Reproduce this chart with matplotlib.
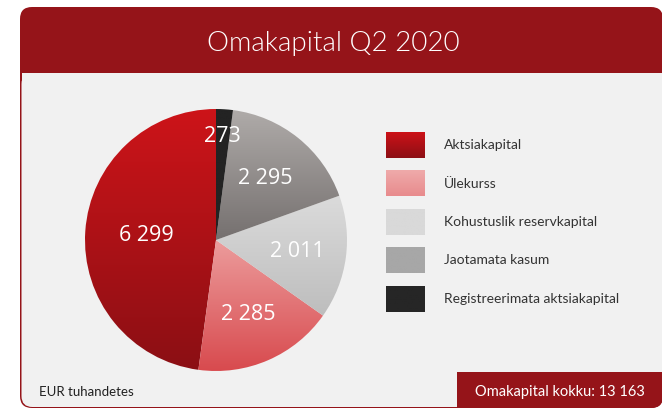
import numpy as np
import matplotlib
matplotlib.use("Agg")
import matplotlib.pyplot as plt
from matplotlib.colors import LinearSegmentedColormap
from matplotlib.patches import FancyBboxPatch, Rectangle

# Andmed (EUR tuhandetes)
kategooriad = ["Aktsiakapital", "Ülekurss", "Kohustuslik reservkapital",
               "Jaotamata kasum", "Registreerimata aktsiakapital"]
vaartused = [6299, 2285, 2011, 2295, 273]
pealkiri = "Omakapital Q2 2020"
uhik = "EUR tuhandetes"
kokku = sum(vaartused)

# värvid: ülemine ja alumine gradiendi toon
pie_varvid = [("#cd1419", "#8b0f14"), ("#ec9c9c", "#d84a4e"), ("#dbdbdb", "#bdbdbd"),
              ("#afaba9", "#75706f"), ("#232323", "#232323")]
leg_varvid = [("#cc1218", "#8d0f15"), ("#efaaaa", "#e88b8d"), ("#d9d9d9", "#d9d9d9"),
              ("#a7a7a7", "#a7a7a7"), ("#262626", "#262626")]
label_kaugus = [0.53, 0.62, 0.63, 0.60, 0.79]
punane = "#951419"

W, H = 662, 409
fig = plt.figure(figsize=(W / 100, H / 100), dpi=100)
fig.patch.set_facecolor("white")

ax = fig.add_axes([0, 0, 1, 1])
ax.axis("off")

# kaart
kaart = FancyBboxPatch((20, 7), 643, 401, boxstyle="round,pad=0,rounding_size=12",
                       facecolor=punane, edgecolor="none")
ax.add_patch(kaart)
ax.add_patch(FancyBboxPatch((21.5, 73), 641, 334, boxstyle="round,pad=0,rounding_size=11",
                            facecolor="#f1f1f1", edgecolor="none"))
ax.add_patch(Rectangle((21.5, 73), 641, 30, facecolor="#f1f1f1", edgecolor="none"))

ax.text(333, 43, pealkiri, color="white", fontsize=20, family="Lato", weight=300,
        ha="center", va="center")

# legend
for i, (nimi, (c1, c2)) in enumerate(zip(kategooriad, leg_varvid)):
    y0 = 132 + i * 38.5
    cmap = LinearSegmentedColormap.from_list("l%d" % i, [c1, c2])
    ax.imshow(np.linspace(0, 1, 64).reshape(-1, 1), cmap=cmap, aspect="auto",
              extent=(386, 425, y0 + 26, y0), origin="upper", zorder=3)
    ax.text(444, y0 + 13, nimi, fontsize=10, family="Lato", color="#333333",
            va="center", ha="left")

ax.text(39, 392, uhik, fontsize=9.5, family="Lato", color="#222222", va="center")

# kokku kast
jalus = Rectangle((457, 372), 220, 50, facecolor=punane, edgecolor="none", zorder=4)
ax.add_patch(jalus)
jalus.set_clip_path(kaart)
ax.text(560, 392, "Omakapital kokku: %s" % format(kokku, ",").replace(",", " "),
        fontsize=10.5, family="Lato", color="white", ha="center", va="center", zorder=5)

ax.set_xlim(0, W)
ax.set_ylim(H, 0)

# sektordiagramm
r_px = 131
cx, cy = 216, 240
ax2 = fig.add_axes([(cx - r_px) / W, (H - cy - r_px) / H, 2 * r_px / W, 2 * r_px / H])
wedges, _ = ax2.pie(vaartused, startangle=90, counterclock=True, radius=1,
                    wedgeprops=dict(linewidth=0, facecolor="none"))
for i, w in enumerate(wedges):
    c1, c2 = pie_varvid[i]
    cmap = LinearSegmentedColormap.from_list("p%d" % i, [c1, c2])
    bb = w.get_path().get_extents()
    im = ax2.imshow(np.linspace(0, 1, 256).reshape(-1, 1), cmap=cmap, aspect="auto",
                    extent=(bb.x0, bb.x1, bb.y0, bb.y1), origin="upper")
    im.set_clip_path(w)
    mid = np.deg2rad((w.theta1 + w.theta2) / 2)
    d = label_kaugus[i]
    ax2.text(d * np.cos(mid), d * np.sin(mid), format(vaartused[i], ",").replace(",", " "),
             color="white", fontsize=15.5, family="Open Sans", ha="center", va="center")
ax2.set_xlim(-1, 1)
ax2.set_ylim(-1, 1)
ax2.set_aspect("equal")
ax2.axis("off")

fig.savefig("out.png", dpi=100)
